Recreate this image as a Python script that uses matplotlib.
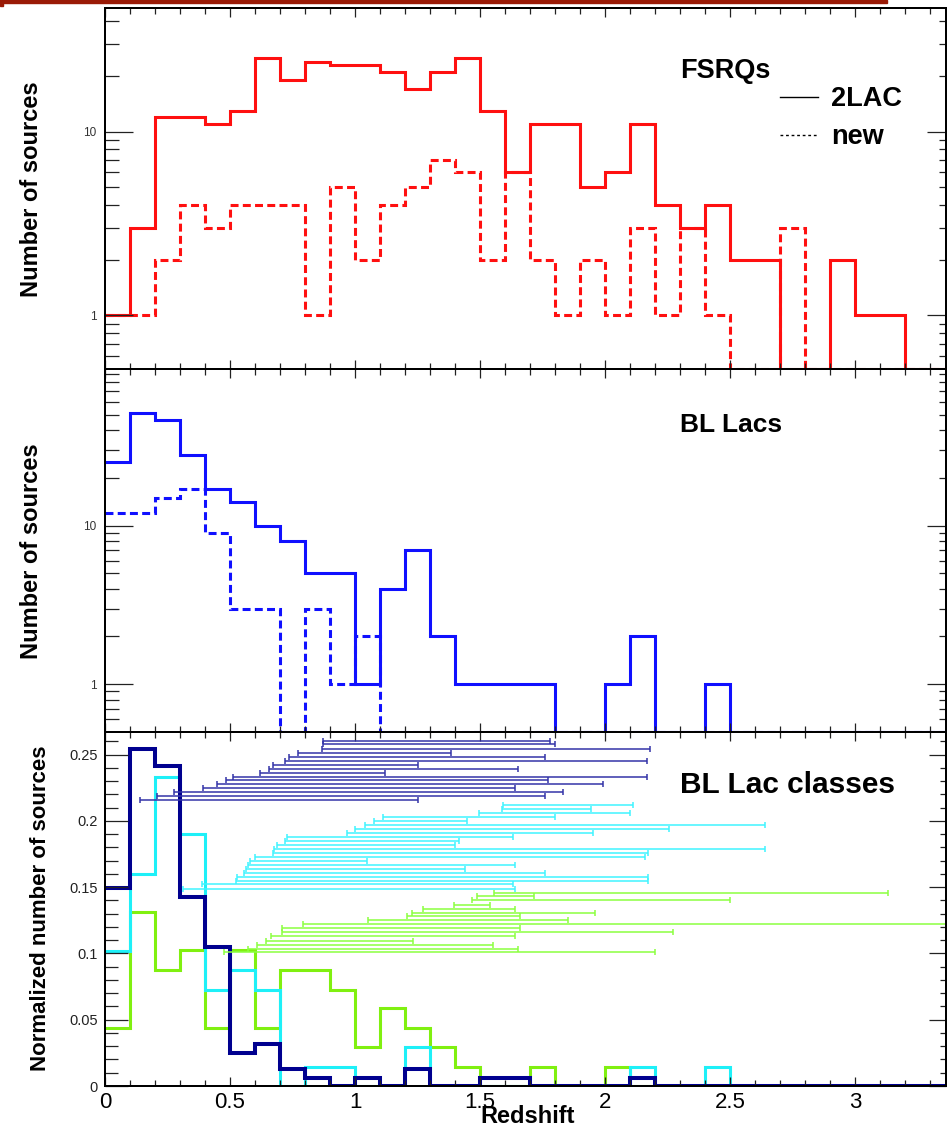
import matplotlib
matplotlib.use("Agg")
import matplotlib.pyplot as plt
import numpy as np
from matplotlib.lines import Line2D
from matplotlib.patches import Rectangle
from matplotlib.ticker import (FixedLocator, MultipleLocator, LogLocator,
                               NullFormatter, FuncFormatter)

plt.rcParams['font.family'] = ['Liberation Sans', 'DejaVu Sans']

# redshift bins, width 0.1, from 0 to 3.4
bin_edges = np.round(np.arange(0, 3.45, 0.1), 2)

# FSRQs, counts per bin
fsrq_2lac = [1, 3, 12, 12, 11, 13, 25, 19, 24, 23, 23, 21, 17, 21, 25, 13, 6,
             11, 11, 5, 6, 11, 4, 3, 4, 2, 2, 0, 0, 2, 1, 1, 0, 0]
fsrq_new = [1, 1, 2, 4, 3, 4, 4, 4, 1, 5, 2, 4, 5, 7, 6, 2, 6, 2, 1, 2, 1, 3,
            1, 3, 1, 0, 0, 3, 0, 0, 0, 0, 0, 0]

# BL Lacs, counts per bin
bll_2lac = [25, 51, 46, 28, 17, 14, 10, 8, 5, 5, 1, 4, 7, 2, 1, 1, 1, 1, 0, 0,
            1, 2, 0, 0, 1, 0, 0, 0, 0, 0, 0, 0, 0, 0]
bll_new = [12, 12, 15, 17, 9, 3, 3, 0, 3, 1, 2, 0, 0, 0, 0, 0, 0, 0, 0, 0, 0,
           0, 0, 0, 0, 0, 0, 0, 0, 0, 0, 0, 0, 0]

# BL Lac classes, normalized
cls_navy = [0.149, 0.254, 0.241, 0.1425, 0.105, 0.025, 0.0315, 0.0126, 0.0063,
            0, 0.0063, 0, 0.0126, 0, 0, 0.0063, 0.0063, 0, 0, 0, 0, 0.0063,
            0, 0, 0, 0, 0, 0, 0, 0, 0, 0, 0, 0]
cls_cyan = [0.102, 0.160, 0.233, 0.190, 0.0725, 0.0876, 0.0725, 0, 0.0146,
            0.0146, 0, 0, 0.0297, 0, 0, 0, 0, 0, 0, 0, 0, 0.0146, 0, 0, 0.0146,
            0, 0, 0, 0, 0, 0, 0, 0, 0]
cls_green = [0.044, 0.131, 0.0876, 0.1027, 0.044, 0.1027, 0.044, 0.0876,
             0.0876, 0.0725, 0.0297, 0.0587, 0.044, 0.0297, 0.0146, 0, 0,
             0.0146, 0, 0, 0.0146, 0, 0, 0, 0, 0, 0, 0, 0, 0, 0, 0, 0, 0]

# redshift ranges (lower, upper) stacked at a height in the bottom panel
navy_y = [0.2603, 0.2578, 0.254, 0.251, 0.248, 0.245, 0.242, 0.2394, 0.2364,
          0.2331, 0.2306, 0.2276, 0.2246, 0.2218, 0.2188, 0.2155]
navy_lo = [0.873, 0.873, 0.867, 0.773, 0.737, 0.72, 0.673, 0.656, 0.62, 0.511,
           0.484, 0.447, 0.393, 0.277, 0.209, 0.14]
navy_hi = [1.78, 1.80, 2.18, 1.384, 1.76, 2.167, 1.25, 1.653, 1.12, 2.167,
           1.77, 1.99, 1.64, 1.833, 1.76, 1.25]

cyan_y = [0.2122, 0.209, 0.206, 0.203, 0.200, 0.197, 0.194, 0.191, 0.188,
          0.185, 0.182, 0.179, 0.176, 0.173, 0.170, 0.1667, 0.1637, 0.1606,
          0.158, 0.1544, 0.152, 0.1485]
cyan_lo = [1.59, 1.587, 1.497, 1.11, 1.076, 1.04, 1.00, 0.967, 0.727, 0.72,
           0.687, 0.676, 0.673, 0.60, 0.58, 0.571, 0.563, 0.557, 0.527, 0.523,
           0.387, 0.31]
cyan_hi = [2.11, 1.943, 2.10, 1.80, 1.447, 2.64, 2.257, 1.95, 1.63, 1.417,
           1.40, 2.64, 2.17, 2.16, 1.049, 1.64, 1.44, 1.76, 2.17, 2.17, 1.63,
           1.64]

green_y = [0.1455, 0.1435, 0.140, 0.1367, 0.1335, 0.1306, 0.128, 0.125,
           0.1222, 0.119, 0.116, 0.1128, 0.1097, 0.1067, 0.1035, 0.1007]
green_lo = [1.556, 1.487, 1.467, 1.396, 1.271, 1.227, 1.209, 1.053, 0.793,
            0.709, 0.707, 0.663, 0.643, 0.607, 0.573, 0.477]
green_hi = [3.13, 1.717, 2.50, 1.54, 1.64, 1.96, 1.66, 1.85, 3.9, 1.66, 2.27,
            1.64, 1.233, 1.55, 1.653, 2.20]

RED = '#ff1010'
BLUE = '#1010ff'
NAVY = '#00008f'
CYAN = '#1ef0f8'
GREEN = '#80f010'
TICK = '#222222'
X_MAX = 3.364
DASH = (0, (2.6, 1.4))

W, H = 947, 1129
fig = plt.figure(figsize=(W / 100, H / 100), dpi=100)


def px_axes(top, bottom, left=105, right=946):
    return fig.add_axes([left / W, 1 - bottom / H, (right - left) / W,
                         (bottom - top) / H])


def style_x(ax, labels):
    ax.set_xlim(0, X_MAX)
    ax.xaxis.set_major_locator(MultipleLocator(0.5))
    ax.xaxis.set_minor_locator(MultipleLocator(0.1))
    ax.tick_params(axis='x', which='both', direction='in', top=True,
                   bottom=True, color=TICK, width=0.9)
    ax.tick_params(axis='x', which='major', length=6.5)
    ax.tick_params(axis='x', which='minor', length=4)
    if labels:
        ax.xaxis.set_major_formatter(FuncFormatter(lambda v, p: f"{v:g}"))
        ax.tick_params(axis='x', labelsize=16, pad=4)
    else:
        ax.tick_params(axis='x', labelbottom=False)
    for s in ax.spines.values():
        s.set_linewidth(1.4)


def log_y(ax, ylim):
    ax.set_yscale('log')
    ax.set_ylim(*ylim)
    ax.yaxis.set_major_locator(FixedLocator([1, 10, 100]))
    ax.yaxis.set_minor_locator(LogLocator(subs=np.arange(2, 10)))
    ax.yaxis.set_major_formatter(FuncFormatter(lambda v, p: f"{v:g}"))
    ax.yaxis.set_minor_formatter(NullFormatter())
    ax.tick_params(axis='y', which='both', direction='in', left=True,
                   right=False, color=TICK, width=0.9, labelsize=8.5,
                   labelcolor='#333333', pad=6)
    ax.tick_params(axis='y', which='major', length=20)
    ax.tick_params(axis='y', which='minor', length=10)
    # shorter ticks on the right side
    axr = ax.twinx()
    axr.set_yscale('log')
    axr.set_ylim(*ylim)
    axr.yaxis.set_major_locator(FixedLocator([1, 10, 100]))
    axr.yaxis.set_minor_locator(LogLocator(subs=np.arange(2, 10)))
    axr.yaxis.set_major_formatter(NullFormatter())
    axr.yaxis.set_minor_formatter(NullFormatter())
    axr.tick_params(axis='y', which='both', direction='in', color=TICK,
                    width=0.9)
    axr.tick_params(axis='y', which='major', length=14)
    axr.tick_params(axis='y', which='minor', length=5)
    for s in axr.spines.values():
        s.set_linewidth(1.4)


def hist(ax, values, color, lw, ls='-', floor=None):
    vals = np.asarray(values, dtype=float)
    if floor is not None:
        vals = np.clip(vals, floor, None)
    ax.stairs(vals, bin_edges, baseline=None, color=color, lw=lw,
              linestyle=ls, joinstyle='miter')


def ranges(ax, y, lo, hi, color):
    y, lo, hi = np.asarray(y), np.asarray(lo), np.asarray(hi)
    mid = (lo + hi) / 2
    ax.errorbar(mid, y, xerr=[mid - lo, hi - mid], fmt='none', ecolor=color,
                elinewidth=1.1, capsize=2.3, capthick=1.1)


# ---- FSRQs
ax1 = px_axes(8, 369)
lim1 = (0.51, 47)
hist(ax1, fsrq_2lac, RED, 2.2, floor=lim1[0])
hist(ax1, fsrq_new, RED, 2.2, ls=DASH, floor=lim1[0])
style_x(ax1, False)
log_y(ax1, lim1)
fig.text(680 / W, 1 - 78 / H, 'FSRQs', fontsize=19.5, fontweight='bold',
         va='baseline')
handles = [Line2D([], [], color='black', lw=1.0),
           Line2D([], [], color='black', lw=1.0, linestyle=(0, (2, 2)))]
ax1.legend(handles, ['2LAC', 'new'], loc='upper left',
           bbox_to_anchor=(780 / W, 1 - 86 / H), bbox_transform=fig.transFigure,
           frameon=False, borderpad=0, borderaxespad=0, handlelength=1.4,
           handletextpad=0.5, labelspacing=0.45,
           prop={'weight': 'bold', 'size': 19.5})

# ---- BL Lacs
ax2 = px_axes(369, 732)
lim2 = (0.5, 97)
hist(ax2, bll_2lac, BLUE, 2.2, floor=lim2[0])
hist(ax2, bll_new, BLUE, 2.2, ls=DASH, floor=lim2[0])
style_x(ax2, False)
log_y(ax2, lim2)
fig.text(680 / W, 1 - 432 / H, 'BL Lacs', fontsize=19, fontweight='bold',
         va='baseline')

# ---- BL Lac classes
ax3 = px_axes(732, 1086)
ranges(ax3, green_y, green_lo, green_hi, '#8cff40')
ranges(ax3, cyan_y, cyan_lo, cyan_hi, '#40f4ff')
ranges(ax3, navy_y, navy_lo, navy_hi, '#3434a8')
hist(ax3, cls_green, GREEN, 2.2)
hist(ax3, cls_cyan, CYAN, 2.2)
hist(ax3, cls_navy, NAVY, 2.9)
style_x(ax3, True)
ax3.set_ylim(0, 0.267)
ax3.yaxis.set_major_locator(MultipleLocator(0.05))
ax3.yaxis.set_minor_locator(MultipleLocator(0.01))
ax3.yaxis.set_major_formatter(FuncFormatter(lambda v, p: f"{v:g}"))
ax3.tick_params(axis='y', which='both', direction='in', left=True,
                right=False, color=TICK, width=0.9, labelsize=10.5,
                labelcolor='#222222', pad=5)
ax3.tick_params(axis='y', which='major', length=16.5)
ax3.tick_params(axis='y', which='minor', length=9.5)
ax3r = ax3.twinx()
ax3r.set_ylim(0, 0.267)
ax3r.yaxis.set_major_locator(MultipleLocator(0.05))
ax3r.yaxis.set_minor_locator(MultipleLocator(0.01))
ax3r.yaxis.set_major_formatter(NullFormatter())
ax3r.tick_params(axis='y', which='both', direction='in', color=TICK, width=0.9)
ax3r.tick_params(axis='y', which='major', length=12)
ax3r.tick_params(axis='y', which='minor', length=4)
for s in ax3r.spines.values():
    s.set_linewidth(1.4)
fig.text(680 / W, 1 - 793 / H, 'BL Lac classes', fontsize=21.5,
         fontweight='bold', va='baseline')

# axis titles
fig.text(31.5 / W, 1 - 189 / H, 'Number of sources', rotation=90, ha='center',
         va='center', fontsize=17, fontweight='bold')
fig.text(31.5 / W, 1 - 551 / H, 'Number of sources', rotation=90, ha='center',
         va='center', fontsize=17, fontweight='bold')
fig.text(40 / W, 1 - 908 / H, 'Normalized number of sources', rotation=90,
         ha='center', va='center', fontsize=16, fontweight='bold')
fig.text(480 / W, 1 - 1123 / H, 'Redshift', ha='left', va='baseline',
         fontsize=17, fontweight='bold')

# slide border strip at the top
fig.patches.append(Rectangle((0, 1 - 3 / H), 887 / W, 3 / H, color='#9a1a06',
                             transform=fig.transFigure, figure=fig))
fig.patches.append(Rectangle((0, 1 - 6 / H), 3 / W, 6 / H, color='#9a1a06',
                             transform=fig.transFigure, figure=fig))

fig.savefig('out.png', dpi=100)
